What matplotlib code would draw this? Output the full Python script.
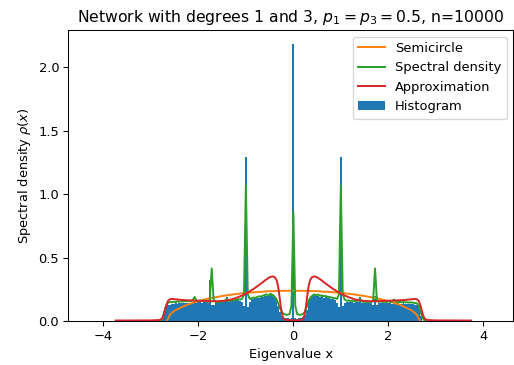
import numpy as np
import matplotlib
matplotlib.use('Agg')
import matplotlib.pyplot as plt

# histogram: bin centres -2.80 .. 2.80, width 0.04
bin_width = 0.04
hist_centres = np.round(np.arange(-2.80, 2.8001, bin_width), 2)
hist_heights = [
    0.0, 0.02, 0.08, 0.12, 0.128, 0.13, 0.135, 0.135, 0.14, 0.138,
    0.14, 0.142, 0.14, 0.143, 0.145, 0.142, 0.146, 0.144, 0.147, 0.145,
    0.148, 0.15, 0.146, 0.15, 0.152, 0.14, 0.32, 0.13, 0.13, 0.14,
    0.15, 0.148, 0.152, 0.15, 0.16, 0.19, 0.15, 0.155, 0.16, 0.158,
    0.162, 0.165, 0.16, 0.15, 0.12, 1.296, 0.11, 0.15, 0.17, 0.175,
    0.18, 0.178, 0.185, 0.19, 0.188, 0.195, 0.2, 0.195, 0.21, 0.2,
    0.19, 0.17, 0.12, 0.07, 0.04, 0.025, 0.02, 0.02, 0.015, 0.02,
    2.185,
    0.02, 0.018, 0.02, 0.025, 0.03, 0.05, 0.09, 0.14, 0.17, 0.2,
    0.205, 0.195, 0.2, 0.19, 0.195, 0.185, 0.19, 0.18, 0.182, 0.175,
    0.17, 0.165, 0.14, 0.11, 1.296, 0.12, 0.14, 0.15, 0.152, 0.148,
    0.15, 0.145, 0.148, 0.15, 0.19, 0.145, 0.14, 0.143, 0.14, 0.142,
    0.14, 0.13, 0.2, 0.13, 0.14, 0.145, 0.14, 0.142, 0.14, 0.143,
    0.14, 0.138, 0.14, 0.137, 0.14, 0.138, 0.136, 0.14, 0.137, 0.135,
    0.138, 0.135, 0.133, 0.13, 0.125, 0.11, 0.04, 0.0, 0.0, 0.0,
]

# spectral density, sampled on the same grid
dens_x = hist_centres
dens_y = [
    0.0, 0.02, 0.07, 0.12, 0.145, 0.15, 0.148, 0.152, 0.15, 0.155,
    0.152, 0.156, 0.153, 0.158, 0.155, 0.16, 0.158, 0.165, 0.19, 0.16,
    0.158, 0.16, 0.156, 0.162, 0.16, 0.15, 0.17, 0.415, 0.17, 0.15,
    0.148, 0.152, 0.15, 0.155, 0.16, 0.175, 0.158, 0.16, 0.165, 0.162,
    0.168, 0.172, 0.17, 0.175, 0.21, 1.07, 0.21, 0.175, 0.18, 0.185,
    0.182, 0.19, 0.195, 0.192, 0.2, 0.205, 0.21, 0.2, 0.215, 0.205,
    0.195, 0.175, 0.14, 0.1, 0.07, 0.055, 0.05, 0.05, 0.055, 0.12,
    0.86,
    0.12, 0.055, 0.05, 0.05, 0.055, 0.07, 0.11, 0.16, 0.185, 0.2,
    0.21, 0.205, 0.208, 0.2, 0.202, 0.195, 0.198, 0.19, 0.19, 0.185,
    0.182, 0.18, 0.175, 0.21, 1.07, 0.21, 0.17, 0.16, 0.162, 0.158,
    0.16, 0.155, 0.158, 0.16, 0.175, 0.155, 0.15, 0.152, 0.15, 0.152,
    0.15, 0.16, 0.415, 0.16, 0.15, 0.155, 0.15, 0.152, 0.15, 0.155,
    0.15, 0.152, 0.17, 0.152, 0.15, 0.15, 0.148, 0.15, 0.147, 0.148,
    0.145, 0.147, 0.145, 0.142, 0.14, 0.12, 0.07, 0.025, 0.005, 0.0,
]

# semicircle law
semi_x = [-2.665, -2.6, -2.5, -2.25, -2.0, -1.75, -1.5, -1.25, -1.0, -0.75, -0.5, -0.25,
          0.0, 0.25, 0.5, 0.75, 1.0, 1.25, 1.5, 1.75, 2.0, 2.25, 2.5, 2.6, 2.665]
semi_y = [0.0, 0.05, 0.082, 0.127, 0.158, 0.18, 0.197, 0.211, 0.222, 0.229, 0.235, 0.238,
          0.239, 0.238, 0.235, 0.229, 0.222, 0.211, 0.197, 0.18, 0.158, 0.127, 0.082, 0.05, 0.0]

# approximation
appr_x = [-3.74, -3.0, -2.82, -2.76, -2.72, -2.68, -2.64, -2.58, -2.5, -2.35, -2.2, -2.0,
          -1.8, -1.6, -1.45, -1.3, -1.15, -1.0, -0.85, -0.7, -0.58, -0.5, -0.44, -0.39,
          -0.35, -0.32, -0.29, -0.26, -0.23, -0.2, -0.15, -0.08, 0.0,
          0.08, 0.15, 0.2, 0.23, 0.26, 0.29, 0.32, 0.35, 0.39, 0.44, 0.5, 0.58, 0.7,
          0.85, 1.0, 1.15, 1.3, 1.45, 1.6, 1.8, 2.0, 2.2, 2.35, 2.5, 2.58, 2.64, 2.68,
          2.72, 2.76, 2.82, 3.0, 3.74]
appr_y = [0.004, 0.005, 0.008, 0.02, 0.06, 0.12, 0.16, 0.175, 0.172, 0.166, 0.163, 0.16,
          0.157, 0.156, 0.16, 0.17, 0.19, 0.215, 0.25, 0.29, 0.325, 0.345, 0.352, 0.345,
          0.32, 0.27, 0.19, 0.1, 0.04, 0.015, 0.008, 0.006, 0.006,
          0.006, 0.008, 0.015, 0.04, 0.1, 0.19, 0.27, 0.32, 0.345, 0.352, 0.345, 0.325, 0.29,
          0.25, 0.215, 0.19, 0.17, 0.16, 0.156, 0.157, 0.16, 0.163, 0.166, 0.172, 0.175,
          0.16, 0.12, 0.06, 0.02, 0.008, 0.005, 0.004]

edges = np.append(hist_centres - bin_width / 2, hist_centres[-1] + bin_width / 2)

# reference was rendered at ~94 dpi
dpi = 94
fig = plt.figure(figsize=(514 / dpi, 365 / dpi), dpi=dpi)
ax = fig.add_axes([0.1329, 0.1205, 0.8655, 0.7973])
ax.hist(hist_centres, bins=edges, weights=hist_heights, color='C0', label='Histogram')
ax.plot(semi_x, semi_y, color='C1', label='Semicircle')
ax.plot(dens_x, dens_y, color='C2', label='Spectral density')
ax.plot(appr_x, appr_y, color='C3', label='Approximation')
ax.set_xlim(-4.74, 4.63)
ax.set_ylim(0, 2.295)
ax.set_title(r'Network with degrees 1 and 3, $p_1=p_3=0.5$, n=10000')
ax.set_xlabel('Eigenvalue x')
ax.set_ylabel(r'Spectral density $\rho(x)$')
handles, labels = ax.get_legend_handles_labels()
order = [1, 2, 3, 0]
ax.legend([handles[i] for i in order], [labels[i] for i in order], loc='upper right')
fig.savefig('out.png', dpi=dpi)
